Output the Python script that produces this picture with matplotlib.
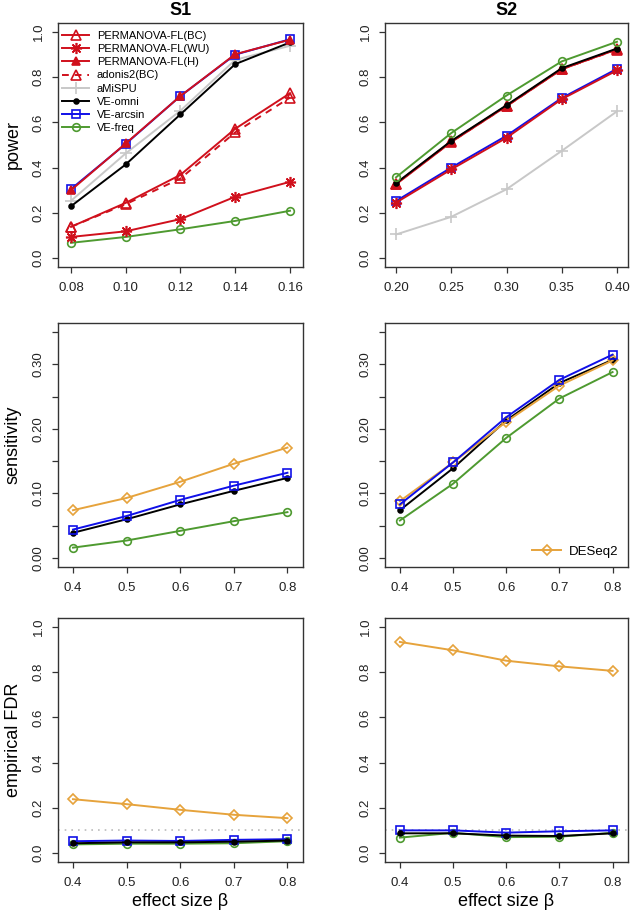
import matplotlib
matplotlib.use('Agg')
import matplotlib.pyplot as plt

plt.rcParams['font.family'] = ['Liberation Sans', 'DejaVu Sans']

# ---------------- data ----------------
s1_x = [0.08, 0.10, 0.12, 0.14, 0.16]
s2_x = [0.20, 0.25, 0.30, 0.35, 0.40]
beta = [0.4, 0.5, 0.6, 0.7, 0.8]

power_ticks = [0.0, 0.2, 0.4, 0.6, 0.8, 1.0]
power_labels = ["0.0", "0.2", "0.4", "0.6", "0.8", "1.0"]
sens_ticks = [0.00, 0.05, 0.10, 0.15, 0.20, 0.25, 0.30, 0.35]
sens_labels = ["0.00", "", "0.10", "", "0.20", "", "0.30", ""]
s1_xlabels = ["0.08", "0.10", "0.12", "0.14", "0.16"]
s2_xlabels = ["0.20", "0.25", "0.30", "0.35", "0.40"]
beta_labels = ["0.4", "0.5", "0.6", "0.7", "0.8"]

# S1 power
s1_pfl_bc = [0.138, 0.244, 0.368, 0.572, 0.729]
s1_pfl_wu = [0.093, 0.118, 0.172, 0.271, 0.337]
s1_pfl_h = [0.300, 0.507, 0.717, 0.902, 0.966]
s1_adonis = [0.138, 0.238, 0.352, 0.556, 0.710]
s1_amispu = [0.253, 0.463, 0.652, 0.877, 0.939]
s1_omni = [0.229, 0.414, 0.636, 0.858, 0.954]
s1_arcsin = [0.305, 0.505, 0.717, 0.900, 0.968]
s1_freq = [0.067, 0.093, 0.127, 0.164, 0.209]

# S2 power
s2_pfl_bc = [0.329, 0.516, 0.674, 0.837, 0.923]
s2_pfl_wu = [0.245, 0.392, 0.532, 0.703, 0.830]
s2_pfl_h = [0.326, 0.513, 0.672, 0.835, 0.925]
s2_adonis = [0.329, 0.514, 0.672, 0.836, 0.922]
s2_amispu = [0.104, 0.182, 0.304, 0.474, 0.649]
s2_omni = [0.331, 0.518, 0.676, 0.840, 0.927]
s2_arcsin = [0.252, 0.400, 0.541, 0.708, 0.837]
s2_freq = [0.357, 0.553, 0.719, 0.870, 0.957]

# sensitivity
s1_sens_deseq = [0.074, 0.093, 0.118, 0.146, 0.171]
s1_sens_arcsin = [0.044, 0.065, 0.090, 0.112, 0.132]
s1_sens_omni = [0.039, 0.060, 0.083, 0.104, 0.124]
s1_sens_freq = [0.016, 0.027, 0.042, 0.057, 0.071]

s2_sens_deseq = [0.088, 0.148, 0.211, 0.267, 0.306]
s2_sens_arcsin = [0.083, 0.148, 0.218, 0.276, 0.315]
s2_sens_omni = [0.074, 0.139, 0.213, 0.271, 0.307]
s2_sens_freq = [0.058, 0.115, 0.186, 0.247, 0.288]

# empirical FDR
s1_fdr_deseq = [0.238, 0.216, 0.191, 0.169, 0.154]
s1_fdr_arcsin = [0.052, 0.055, 0.053, 0.058, 0.061]
s1_fdr_omni = [0.043, 0.047, 0.047, 0.050, 0.055]
s1_fdr_freq = [0.038, 0.041, 0.041, 0.043, 0.052]

s2_fdr_deseq = [0.934, 0.897, 0.851, 0.826, 0.806]
s2_fdr_arcsin = [0.100, 0.100, 0.090, 0.096, 0.100]
s2_fdr_omni = [0.087, 0.087, 0.077, 0.075, 0.087]
s2_fdr_freq = [0.068, 0.089, 0.070, 0.072, 0.089]

fdr_level = 0.1

# ---------------- style ----------------
RED = '#d0101c'
BLUE = '#1010e8'
GREEN = '#4e9a30'
ORANGE = '#e6a33c'
GRAY = '#c8c8c8'
BLACK = '#000000'
LW = 1.4

W, H = 630, 916
fig = plt.figure(figsize=(W / 100, H / 100), dpi=100)


def make_ax(x0, x1, y0, y1):
    return fig.add_axes([x0 / W, 1 - y1 / H, (x1 - x0) / W, (y1 - y0) / H])


def style(ax, xticks, xlabels, yticks, ylabels, xlim, ylim):
    ax.set_xlim(*xlim)
    ax.set_ylim(*ylim)
    ax.set_xticks(xticks)
    ax.set_xticklabels(xlabels)
    ax.set_yticks(yticks)
    ax.set_yticklabels(ylabels, rotation=90, va='center')
    for s in ax.spines.values():
        s.set_color('#333333')
        s.set_linewidth(1.0)
    ax.tick_params(direction='out', length=4.5, width=0.9, color='#333333',
                   labelsize=9.5, labelcolor='#222222')
    ax.tick_params(axis='x', pad=6)
    ax.tick_params(axis='y', pad=5)


def pl(ax, x, y, color, marker, ms, mfc='none', ls='-', label=None, mew=1.2, z=2):
    return ax.plot(x, y, color=color, lw=LW, ls=ls, marker=marker, ms=ms,
                   mfc=mfc, mec=color, mew=mew, label=label, zorder=z)[0]


STAR = (8, 2, 0)

# ---- Row 1: power ----
ax1 = make_ax(58, 303, 23, 267)
ax2 = make_ax(385, 628, 23, 267)

h_amispu = pl(ax1, s1_x, s1_amispu, GRAY, '+', 8, label='aMiSPU')
h_omni = pl(ax1, s1_x, s1_omni, BLACK, 'o', 3.5, mfc=BLACK, label='VE-omni')
h_arcsin = pl(ax1, s1_x, s1_arcsin, BLUE, 's', 5.5, label='VE-arcsin')
h_freq = pl(ax1, s1_x, s1_freq, GREEN, 'o', 5.5, label='VE-freq')
h_bc = pl(ax1, s1_x, s1_pfl_bc, RED, '^', 6.5, label='PERMANOVA-FL(BC)')
h_wu = pl(ax1, s1_x, s1_pfl_wu, RED, STAR, 8, label='PERMANOVA-FL(WU)')
h_h = pl(ax1, s1_x, s1_pfl_h, RED, '^', 6, mfc=RED, label='PERMANOVA-FL(H)')
h_ad = pl(ax1, s1_x, s1_adonis, RED, '^', 6.5, ls=(0, (3.5, 3)), label='adonis2(BC)')

pl(ax2, s2_x, s2_amispu, GRAY, '+', 8)
pl(ax2, s2_x, s2_arcsin, BLUE, 's', 5.5)
pl(ax2, s2_x, s2_pfl_wu, RED, STAR, 8)
pl(ax2, s2_x, s2_pfl_bc, RED, '^', 6.5)
pl(ax2, s2_x, s2_adonis, RED, '^', 6.5, ls=(0, (3.5, 3)))
pl(ax2, s2_x, s2_pfl_h, RED, '^', 6, mfc=RED)
pl(ax2, s2_x, s2_omni, BLACK, 'o', 3.5, mfc=BLACK)
pl(ax2, s2_x, s2_freq, GREEN, 'o', 5.5)

style(ax1, s1_x, s1_xlabels, power_ticks, power_labels,
      (0.07525, 0.16475), (-0.04, 1.04))
style(ax2, s2_x, s2_xlabels, power_ticks, power_labels,
      (0.190, 0.410), (-0.04, 1.04))

ax1.set_title('S1', fontsize=13, fontweight='bold', pad=6)
ax2.set_title('S2', fontsize=13, fontweight='bold', pad=6)
ax1.set_ylabel('power', fontsize=13, labelpad=8)

leg = ax1.legend(handles=[h_bc, h_wu, h_h, h_ad, h_amispu, h_omni, h_arcsin, h_freq],
                 loc='upper left', bbox_to_anchor=(0.0, 0.985), frameon=False,
                 fontsize=8, handlelength=2.4, handletextpad=0.7,
                 labelspacing=0.28, borderaxespad=0.2, borderpad=0.2)

# ---- Row 2: sensitivity ----
ax3 = make_ax(58, 303, 323, 567)
ax4 = make_ax(385, 628, 323, 567)

for ax, d, a, o, f in [(ax3, s1_sens_deseq, s1_sens_arcsin, s1_sens_omni, s1_sens_freq),
                       (ax4, s2_sens_deseq, s2_sens_arcsin, s2_sens_omni, s2_sens_freq)]:
    pl(ax, beta, f, GREEN, 'o', 5.5)
    pl(ax, beta, o, BLACK, 'o', 3.5, mfc=BLACK)
    hd = pl(ax, beta, d, ORANGE, 'D', 4.8, label='DESeq2')
    pl(ax, beta, a, BLUE, 's', 5.5)
    style(ax, beta, beta_labels, sens_ticks, sens_labels,
          (0.372, 0.829), (-0.014, 0.364))

ax3.set_ylabel('sensitivity', fontsize=13, labelpad=8)
ax4.legend(handles=[hd], loc='lower right', frameon=False, fontsize=9.5,
           handlelength=2.2, handletextpad=0.6, borderaxespad=0.3)

# ---- Row 3: FDR ----
ax5 = make_ax(58, 303, 618, 862)
ax6 = make_ax(385, 628, 618, 862)

for ax, d, a, o, f in [(ax5, s1_fdr_deseq, s1_fdr_arcsin, s1_fdr_omni, s1_fdr_freq),
                       (ax6, s2_fdr_deseq, s2_fdr_arcsin, s2_fdr_omni, s2_fdr_freq)]:
    ax.axhline(fdr_level, color='#bbbbbb', lw=1.2, ls=(0, (1, 3)), zorder=1)
    pl(ax, beta, f, GREEN, 'o', 5.5)
    pl(ax, beta, a, BLUE, 's', 5.5)
    pl(ax, beta, o, BLACK, 'o', 3.5, mfc=BLACK)
    pl(ax, beta, d, ORANGE, 'D', 4.8)
    style(ax, beta, beta_labels, power_ticks, power_labels,
          (0.372, 0.829), (-0.04, 1.04))
    ax.set_xlabel('effect size \u03b2', fontsize=13, labelpad=3)

ax5.set_ylabel('empirical FDR', fontsize=13, labelpad=8)

fig.savefig('out.png', dpi=100)
